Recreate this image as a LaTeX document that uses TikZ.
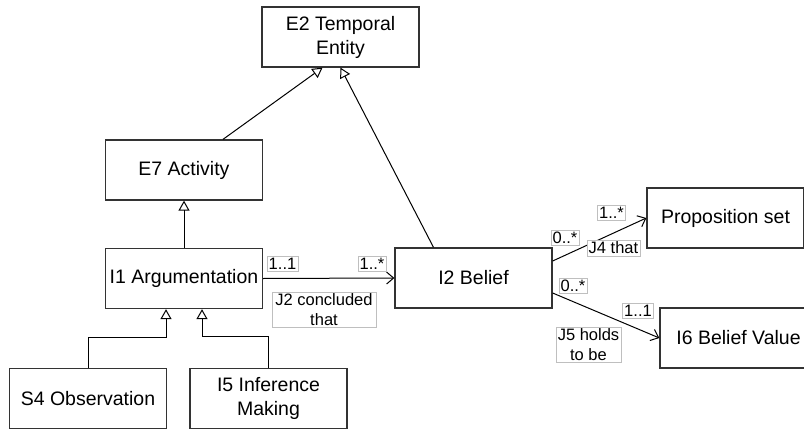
\documentclass[tikz,border=0pt]{standalone}
\usepackage{fontspec}
\setmainfont{Liberation Sans}
\usetikzlibrary{arrows.meta}
\begin{document}
\begin{tikzpicture}[x=1pt,y=-1pt,
    cls/.style={draw=black!80,line width=1.3pt,fill=white,minimum width=157pt,
      minimum height=60pt,align=center,font=\fontsize{19.5}{24}\selectfont},
    mult/.style={draw=black!25,fill=white,inner sep=1.8pt,align=center,
      font=\fontsize{16.5}{19.5}\selectfont},
    isa/.style={-{Triangle[open,length=10pt,width=11pt]},line width=1pt},
    assoc/.style={-{Straight Barb[length=7pt,width=12pt]},line width=1pt}]
  \useasboundingbox (0,0) rectangle (804,431);
  \clip (0,0) rectangle (804,431);

  %% classes
  \node (E2) at (340.5,37) [cls] {E2 Temporal\\Entity};
  \node (E7) at (184,170) [cls] {E7 Activity};
  \node (I1) at (184,278.5) [cls] {I1 Argumentation};
  \node (S4) at (88,398.5) [cls] {S4 Observation};
  \node (I5) at (268.5,398.5) [cls] {I5 Inference\\Making};
  \node (I2) at (473.5,278) [cls] {I2 Belief};
  \node (PS) at (725.5,218) [cls] {Proposition set};
  \node (I6) at (738.5,338) [cls] {I6 Belief Value};

  %% generalisations
  \draw[isa] ([xshift=39pt]E7.north) -- ([xshift=-18pt]E2.south);
  \draw[isa] ([xshift=-40pt]I2.north) -- (E2.south);
  \draw[isa] (I1.north) -- (E7.south);
  \draw[isa] (S4.north) -- ++(0,-30) -| ([xshift=-18pt]I1.south);
  \draw[isa] (I5.north) -- ++(0,-31) -| ([xshift=18pt]I1.south);

  %% associations
  \draw[assoc] (I1.east) -- (I2.west);
  \draw[assoc] ([yshift=17pt]I2.east) -- (PS.west);
  \draw[assoc] ([yshift=-15pt]I2.east) -- (I6.west);

  %% multiplicities and roles
  \node (m11) at (282.5,263.5) [mult] {1..1};
  \node (m12) at (372,263.5) [mult] {1..*};
  \node (J2) at (324,309.5) [mult,minimum width=104pt] {J2 concluded\\that};
  \node (m21) at (565,238) [mult] {0..*};
  \node (m22) at (611.5,213) [mult] {1..*};
  \node (J4) at (613.5,248) [mult] {J4 that};
  \node (m31) at (573,286) [mult] {0..*};
  \node (m32) at (638,310.5) [mult] {1..1};
  \node (J5) at (588.5,344.5) [mult] {J5 holds\\to be};
\end{tikzpicture}
\end{document}
